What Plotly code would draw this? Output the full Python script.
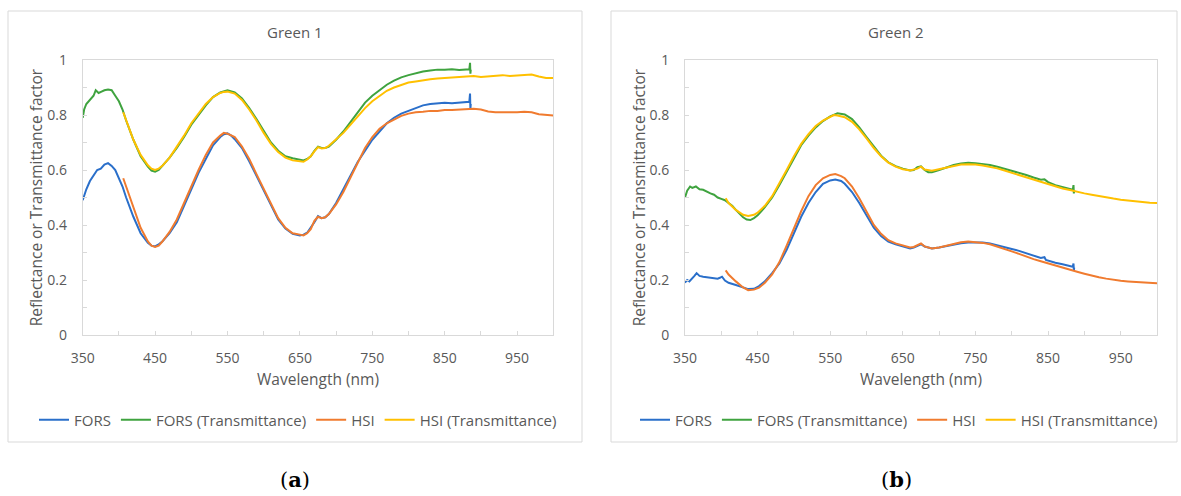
import plotly.graph_objects as go

W, H = 1181, 496

# ---------------- Panel (a): Green 1 ----------------
a_fors_wl = [350,355,360,365,370,375,380,385,390,395,400,405,410,420,430,440,445,450,455,460,470,480,490,500,510,520,530,540,545,550,555,560,570,580,590,600,610,620,630,640,650,655,660,665,670,675,680,685,690,700,710,720,730,740,750,760,770,780,790,800,810,820,830,840,850,860,870,880,884,885,885.5,886]
a_fors = [0.49,0.53,0.56,0.58,0.60,0.605,0.62,0.625,0.615,0.60,0.57,0.54,0.50,0.43,0.37,0.335,0.325,0.322,0.33,0.34,0.37,0.41,0.47,0.53,0.59,0.64,0.69,0.72,0.73,0.733,0.725,0.712,0.68,0.632,0.578,0.522,0.468,0.42,0.387,0.368,0.362,0.365,0.372,0.39,0.41,0.432,0.425,0.428,0.44,0.48,0.53,0.58,0.63,0.67,0.71,0.74,0.77,0.79,0.805,0.815,0.825,0.835,0.84,0.842,0.845,0.843,0.846,0.848,0.848,0.878,0.82,0.84]

a_forsT_wl = [350,352,355,360,365,368,372,376,380,385,390,395,400,405,410,420,430,440,445,450,455,460,470,480,490,500,510,520,530,540,550,560,570,580,590,600,610,620,630,640,650,655,660,665,670,675,680,685,690,700,710,720,730,740,750,760,770,780,790,800,810,820,830,840,850,860,870,880,884,885,885.5,886]
a_forsT = [0.79,0.82,0.84,0.855,0.87,0.89,0.88,0.885,0.89,0.893,0.89,0.87,0.85,0.82,0.78,0.71,0.65,0.612,0.598,0.594,0.60,0.615,0.645,0.68,0.72,0.765,0.80,0.835,0.865,0.882,0.89,0.882,0.86,0.825,0.785,0.74,0.70,0.67,0.65,0.643,0.638,0.635,0.64,0.65,0.67,0.685,0.68,0.68,0.685,0.71,0.74,0.775,0.81,0.845,0.87,0.89,0.91,0.925,0.937,0.945,0.952,0.958,0.962,0.965,0.965,0.966,0.964,0.966,0.966,0.99,0.95,0.965]

a_hsi_wl = [406,410,420,430,440,445,450,455,460,470,480,490,500,510,520,530,540,545,550,560,570,580,590,600,610,620,630,640,650,655,660,665,670,675,680,685,690,700,710,720,730,740,750,760,770,780,790,800,810,820,830,840,850,860,870,880,890,900,910,920,930,940,950,960,970,980,990,1000]
a_hsi = [0.57,0.54,0.46,0.39,0.34,0.325,0.32,0.325,0.34,0.375,0.42,0.48,0.545,0.60,0.655,0.70,0.725,0.735,0.732,0.72,0.685,0.64,0.585,0.53,0.475,0.425,0.39,0.37,0.365,0.362,0.37,0.385,0.415,0.43,0.425,0.428,0.44,0.475,0.52,0.575,0.63,0.68,0.72,0.75,0.77,0.785,0.797,0.805,0.81,0.812,0.815,0.815,0.818,0.818,0.82,0.822,0.823,0.82,0.813,0.81,0.81,0.808,0.81,0.812,0.81,0.803,0.80,0.798]

a_hsiT_wl = a_hsi_wl
a_hsiT = [0.81,0.78,0.71,0.655,0.617,0.605,0.60,0.605,0.615,0.645,0.685,0.725,0.77,0.805,0.84,0.865,0.88,0.884,0.885,0.878,0.855,0.82,0.78,0.735,0.695,0.665,0.645,0.635,0.633,0.63,0.638,0.65,0.668,0.683,0.678,0.68,0.688,0.71,0.735,0.765,0.795,0.825,0.85,0.87,0.888,0.90,0.91,0.918,0.922,0.927,0.93,0.933,0.935,0.935,0.937,0.94,0.942,0.938,0.94,0.942,0.945,0.942,0.944,0.946,0.947,0.94,0.935,0.935]

# ---------------- Panel (b): Green 2 ----------------
b_fors_wl = [350,353,356,360,363,366,370,375,380,385,390,395,398,401,405,410,420,430,437,445,452,460,470,480,490,500,510,520,530,540,550,557,565,570,580,590,600,610,620,630,640,650,660,665,670,675,680,690,700,710,720,730,740,750,760,770,780,790,800,810,820,830,840,843,845,847,850,860,870,880,884,885,885.5,886]
b_fors = [0.19,0.20,0.195,0.205,0.215,0.225,0.215,0.212,0.21,0.208,0.205,0.205,0.208,0.212,0.198,0.19,0.182,0.173,0.167,0.168,0.178,0.195,0.225,0.26,0.31,0.37,0.43,0.48,0.52,0.55,0.562,0.565,0.56,0.55,0.52,0.48,0.435,0.39,0.36,0.34,0.33,0.322,0.315,0.318,0.325,0.33,0.322,0.315,0.318,0.324,0.33,0.334,0.336,0.337,0.336,0.333,0.327,0.32,0.313,0.306,0.298,0.29,0.28,0.282,0.283,0.273,0.27,0.263,0.257,0.25,0.248,0.26,0.235,0.245]

b_forsT_wl = [350,353,357,360,365,370,375,380,385,390,395,400,405,410,415,420,425,430,435,440,445,450,460,470,480,490,500,510,520,530,540,550,560,570,580,590,600,610,620,630,640,650,660,665,670,675,680,685,690,700,710,720,730,740,750,760,770,780,790,800,810,820,830,840,845,850,860,870,880,884,885,885.5,886]
b_forsT = [0.50,0.525,0.54,0.535,0.54,0.53,0.528,0.52,0.515,0.51,0.50,0.495,0.49,0.48,0.47,0.455,0.44,0.428,0.42,0.418,0.425,0.435,0.465,0.50,0.545,0.595,0.645,0.69,0.725,0.755,0.778,0.795,0.806,0.802,0.785,0.755,0.72,0.685,0.652,0.628,0.614,0.605,0.598,0.60,0.61,0.613,0.60,0.592,0.592,0.60,0.61,0.618,0.624,0.626,0.625,0.622,0.618,0.612,0.605,0.598,0.59,0.582,0.573,0.565,0.566,0.556,0.545,0.537,0.53,0.528,0.545,0.515,0.525]

b_hsi_wl = [406,410,420,430,437,445,452,460,470,480,490,500,510,520,530,540,550,557,565,570,580,590,600,610,620,630,640,650,660,665,670,675,680,690,700,710,720,730,740,750,760,770,780,790,800,810,820,830,840,850,860,870,880,890,900,910,920,930,940,950,960,970,980,990,1000]
b_hsi = [0.235,0.22,0.195,0.173,0.163,0.165,0.172,0.19,0.22,0.265,0.325,0.39,0.45,0.505,0.545,0.57,0.582,0.585,0.578,0.57,0.54,0.497,0.448,0.40,0.368,0.345,0.333,0.325,0.318,0.32,0.328,0.333,0.322,0.315,0.318,0.325,0.332,0.337,0.34,0.338,0.335,0.33,0.322,0.313,0.304,0.295,0.285,0.276,0.268,0.26,0.252,0.244,0.237,0.23,0.223,0.216,0.21,0.205,0.20,0.197,0.195,0.193,0.19,0.189,0.188]

b_hsiT_wl = [406,410,420,430,437,445,450,460,470,480,490,500,510,520,530,540,550,555,560,570,580,590,600,610,620,630,640,650,660,670,675,680,690,700,710,720,730,740,750,760,770,780,790,800,810,820,830,840,850,860,870,880,890,900,910,920,930,940,950,960,970,980,990,1000]
b_hsiT = [0.497,0.48,0.455,0.437,0.433,0.437,0.445,0.47,0.505,0.55,0.60,0.65,0.695,0.73,0.76,0.78,0.795,0.80,0.798,0.792,0.775,0.748,0.715,0.68,0.65,0.627,0.612,0.603,0.598,0.605,0.612,0.602,0.597,0.603,0.61,0.615,0.62,0.621,0.62,0.616,0.612,0.606,0.598,0.59,0.582,0.573,0.565,0.556,0.548,0.54,0.533,0.527,0.52,0.515,0.51,0.505,0.499,0.496,0.492,0.489,0.486,0.483,0.481,0.48]

series_names = ["FORS", "FORS (Transmittance)", "HSI", "HSI (Transmittance)"]
colors = ["#2a6fca", "#3fa33f", "#f07b2f", "#ffc000"]
panel_titles = ["Green 1", "Green 2"]
captions = ["(<b>a</b>)", "(<b>b</b>)"]
x_ticks = [350, 450, 550, 650, 750, 850, 950]
y_ticks = [0, 0.2, 0.4, 0.6, 0.8, 1]
y_tick_text = ["0", "0.2", "0.4", "0.6", "0.8", "1"]

panels = [
    [(a_fors_wl, a_fors), (a_forsT_wl, a_forsT), (a_hsi_wl, a_hsi), (a_hsiT_wl, a_hsiT)],
    [(b_fors_wl, b_fors), (b_forsT_wl, b_forsT), (b_hsi_wl, b_hsi), (b_hsiT_wl, b_hsiT)],
]

FONT = "Open Sans"
GRAY = "#595959"
LINE = "#d9d9d9"

fig = go.Figure()
for p, series in enumerate(panels):
    xa = "x" if p == 0 else "x2"
    ya = "y" if p == 0 else "y2"
    lg = "legend" if p == 0 else "legend2"
    for i, (wl, vals) in enumerate(series):
        fig.add_trace(go.Scatter(
            x=wl, y=vals, mode="lines", name=series_names[i],
            line=dict(color=colors[i], width=2),
            xaxis=xa, yaxis=ya, legend=lg, hoverinfo="skip"))

def px_x(v):
    return v / W

def px_y(v):
    return 1 - v / H

ydom = [px_y(335), px_y(60)]
xdoms = [[px_x(82.7), px_x(553.3)], [px_x(685), px_x(1157)]]

def xaxis(dom, anchor):
    return dict(
        domain=dom, anchor=anchor, range=[350, 1000], tickmode="array",
        tickvals=x_ticks, ticks="inside", ticklen=4, tickcolor=LINE,
        minor=dict(tickmode="array", tickvals=list(range(350, 1001, 50)), ticks="inside", ticklen=4, tickcolor=LINE),
        showline=True, linecolor=LINE, linewidth=1, mirror=True,
        showgrid=False, zeroline=False, automargin=False,
        tickfont=dict(family=FONT, size=14, color=GRAY),
        ticklabelstandoff=10,
        title=dict(text="Wavelength (nm)", font=dict(family=FONT, size=15.5, color=GRAY), standoff=8),
        fixedrange=True)

def yaxis(anchor):
    return dict(
        domain=ydom, anchor=anchor, range=[0, 1], tickmode="array",
        tickvals=y_ticks, ticktext=y_tick_text, ticks="inside", ticklen=4, tickcolor=LINE,
        minor=dict(tickmode="array", tickvals=[0.1, 0.3, 0.5, 0.7, 0.9], ticks="inside", ticklen=4, tickcolor=LINE),
        showline=True, linecolor=LINE, linewidth=1, mirror=True,
        showgrid=False, zeroline=False, automargin=False,
        tickfont=dict(family=FONT, size=14, color=GRAY),
        ticklabelstandoff=12,
        title=dict(text="Reflectance or Transmittance factor", font=dict(family=FONT, size=15.5, color=GRAY), standoff=0),
        fixedrange=True)

shapes = [
    dict(type="rect", xref="paper", yref="paper", x0=px_x(8), x1=px_x(582), y0=px_y(442), y1=px_y(11),
         line=dict(color=LINE, width=1), layer="below"),
    dict(type="rect", xref="paper", yref="paper", x0=px_x(611), x1=px_x(1177), y0=px_y(442), y1=px_y(11),
         line=dict(color=LINE, width=1), layer="below"),
]

title_x = [px_x(295), px_x(896)]
annotations = []
for p in range(2):
    annotations.append(dict(text=panel_titles[p], x=title_x[p], y=px_y(32), xref="paper", yref="paper",
                            showarrow=False, xanchor="center", yanchor="middle",
                            font=dict(family=FONT, size=15, color=GRAY)))
    annotations.append(dict(text=captions[p], x=title_x[p], y=px_y(479), xref="paper", yref="paper",
                            showarrow=False, xanchor="center", yanchor="middle",
                            font=dict(family="DejaVu Serif", size=21, color="#000000")))

def legend(xc):
    return dict(orientation="h", x=xc, y=px_y(420), xanchor="center", yanchor="middle",
                font=dict(family=FONT, size=15, color=GRAY), bgcolor="rgba(0,0,0,0)",
                itemwidth=30, tracegroupgap=0, itemclick=False, itemdoubleclick=False)

fig.update_layout(
    width=W, height=H, margin=dict(l=0, r=0, t=0, b=0, autoexpand=False),
    paper_bgcolor="white", plot_bgcolor="white",
    xaxis=xaxis(xdoms[0], "y"), yaxis=yaxis("x"),
    xaxis2=xaxis(xdoms[1], "y2"), yaxis2=yaxis("x2"),
    legend=legend(px_x(298)), legend2=legend(px_x(899)),
    shapes=shapes, annotations=annotations, showlegend=True,
)

fig.write_html("out.html", config={"displayModeBar": False, "staticPlot": False},
               post_script="document.body.style.margin='0px'; document.body.style.overflow='hidden';")
